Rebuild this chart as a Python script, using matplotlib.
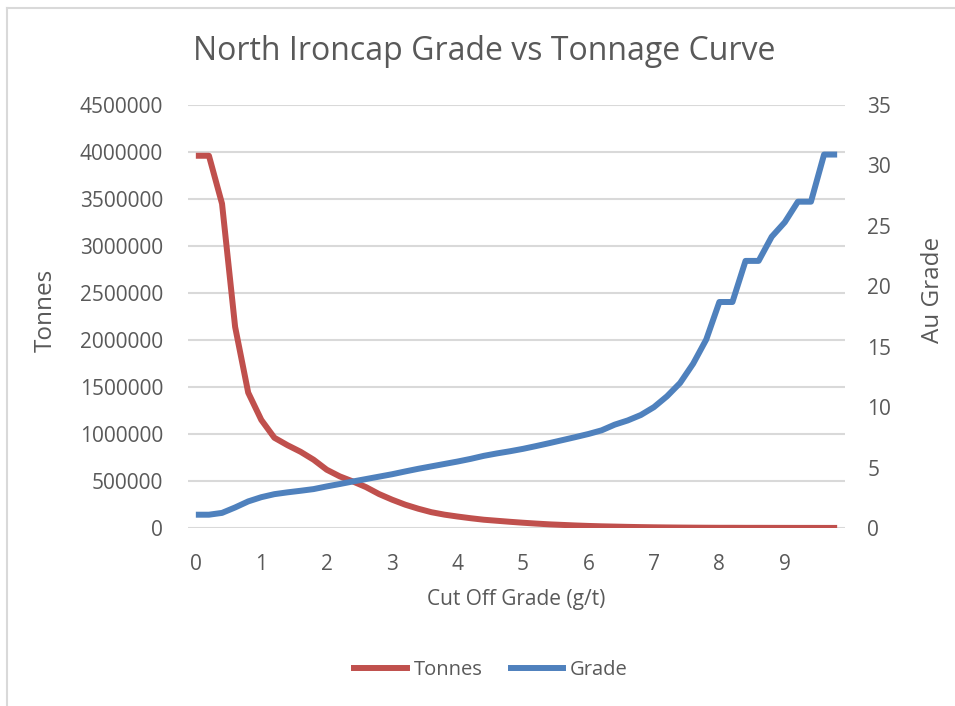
import matplotlib
matplotlib.use('Agg')
import matplotlib.pyplot as plt
from matplotlib.lines import Line2D
from matplotlib.ticker import MultipleLocator, StrMethodFormatter

# cut off grade categories (g/t)
cutoff = [0.0, 0.2, 0.4, 0.6, 0.8, 1.0, 1.2, 1.4, 1.6, 1.8,
          2.0, 2.2, 2.4, 2.6, 2.8, 3.0, 3.2, 3.4, 3.6, 3.8,
          4.0, 4.2, 4.4, 4.6, 4.8, 5.0, 5.2, 5.4, 5.6, 5.8,
          6.0, 6.2, 6.4, 6.6, 6.8, 7.0, 7.2, 7.4, 7.6, 7.8,
          8.0, 8.2, 8.4, 8.6, 8.8, 9.0, 9.2, 9.4, 9.6, 9.8]

# tonnes above cut off
tonnes = [3960000, 3960000, 3450000, 2140000, 1440000, 1150000, 960000, 881000, 811000, 726000,
          620000, 549000, 495000, 435000, 361000, 301000, 248000, 205000, 168000, 142000,
          122000, 104000, 88000, 77000, 66000, 56000, 47000, 39000, 33000, 27000,
          22000, 18000, 15000, 12000, 9500, 7500, 6000, 4800, 3800, 3000,
          2400, 2400, 1900, 1900, 1600, 1400, 1200, 1200, 900, 900]

# average Au grade above cut off
grade = [1.1, 1.1, 1.25, 1.7, 2.2, 2.55, 2.8, 2.95, 3.08, 3.22,
         3.44, 3.64, 3.85, 4.05, 4.25, 4.45, 4.68, 4.9, 5.1, 5.3,
         5.5, 5.72, 5.97, 6.17, 6.35, 6.55, 6.78, 7.02, 7.27, 7.52,
         7.78, 8.08, 8.55, 8.9, 9.35, 10.0, 10.9, 12.0, 13.6, 15.6,
         18.7, 18.7, 22.1, 22.1, 24.1, 25.3, 27.0, 27.0, 30.9, 30.9]

xticks = [0, 1, 2, 3, 4, 5, 6, 7, 8, 9]

red = '#c0504d'
blue = '#4f81bd'
txt = '#595959'
grid = '#d9d9d9'
plt.rcParams['font.family'] = ['Open Sans', 'DejaVu Sans']

fig = plt.figure(figsize=(9.55, 7.06), dpi=100)
ax = fig.add_axes([188/955, 1-528/706, (845-188)/955, (528-105)/706])
ax2 = ax.twinx()

ax.plot(cutoff, tonnes, color=red, lw=4.3, solid_joinstyle='round', solid_capstyle='butt', zorder=3)
ax2.plot(cutoff, grade, color=blue, lw=4.3, solid_joinstyle='round', solid_capstyle='butt', zorder=3)

# left axis
ax.set_xlim(-0.12, 9.92)
ax.set_ylim(0, 4500000)
ax.yaxis.set_major_locator(MultipleLocator(500000))
ax.yaxis.set_major_formatter(StrMethodFormatter('{x:.0f}'))
ax.set_xticks(xticks)
ax.grid(axis='y', color=grid, lw=1.5)
ax.set_axisbelow(True)

# right axis
ax2.set_ylim(0, 35)
ax2.yaxis.set_major_locator(MultipleLocator(5))

for a in (ax, ax2):
    for s in a.spines.values():
        s.set_visible(False)
    a.tick_params(length=0, labelsize=15, colors=txt, pad=18)
ax.tick_params(axis='x', pad=19)
ax2.tick_params(axis='y', pad=16)

ax.set_xlabel('Cut Off Grade (g/t)', fontsize=15, color=txt, labelpad=10)
ax.set_ylabel('Tonnes', fontsize=17.5, color=txt)
ax2.set_ylabel('Au Grade', fontsize=17.5, color=txt)
ax.yaxis.set_label_coords((58-188)/657, (528-310)/423)
ax2.yaxis.set_label_coords((921-188)/657, (528-290)/423)

fig.text(484/955, 1-52/706, 'North Ironcap Grade vs Tonnage Curve', fontsize=23,
         color=txt, ha='center', va='center')

# legend
handles = [Line2D([], [], color=red, lw=4.3), Line2D([], [], color=blue, lw=4.3)]
fig.legend(handles, ['Tonnes', 'Grade'], loc='center', bbox_to_anchor=(491/955, 1-670/706),
           ncol=2, frameon=False, fontsize=14.5, labelcolor=txt, handlelength=2.6,
           handletextpad=0.35, columnspacing=1.4)

# chart area border
fig.add_artist(Line2D([7/955, 7/955], [0, 1-8/706], color=grid, lw=1.5))
fig.add_artist(Line2D([7/955, 1], [1-8/706, 1-8/706], color=grid, lw=1.5))

fig.savefig('out.png', dpi=100)
